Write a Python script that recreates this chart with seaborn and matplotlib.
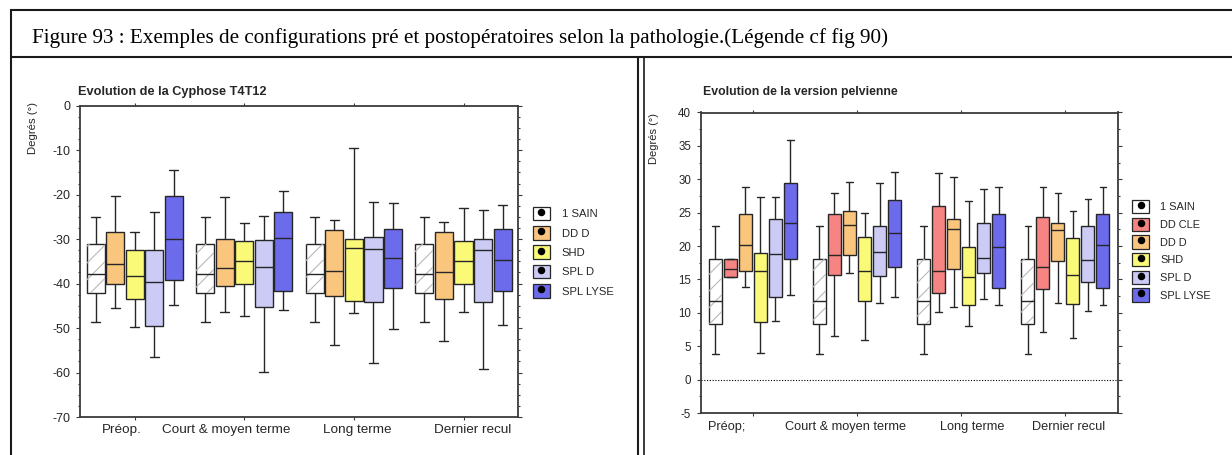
import matplotlib
matplotlib.use("Agg")
import matplotlib.pyplot as plt
from matplotlib.lines import Line2D
from matplotlib.patches import Patch, PathPatch
from matplotlib.legend_handler import HandlerTuple
from matplotlib.ticker import MultipleLocator
import pandas as pd
import seaborn as sns

# ---------------------------------------------------------------- data
caption = ("Figure 93 : Exemples de configurations pré et postopératoires "
           "selon la pathologie.(Légende cf fig 90)")

periods = ["Préop.", "Court & moyen terme", "Long terme", "Dernier recul"]
period_labels_cyph = ["Préop.", "Court & moyen terme", "Long terme", "Dernier recul"]
period_labels_vp = ["Préop;", "Court & moyen terme", "Long terme", "Dernier recul"]

groups_cyph = ["1 SAIN", "DD D", "SHD", "SPL D", "SPL LYSE"]
groups_vp = ["1 SAIN", "DD CLE", "DD D", "SHD", "SPL D", "SPL LYSE"]

# five-number summaries per period: (min, Q1, median, Q3, max), degrees
cyph_sain = [(-48.7, -42.1, -37.8, -31.1, -25.1)] * 4
cyph_dd_d = [(-45.5, -40.1, -35.7, -28.5, -20.3), (-46.4, -40.6, -36.5, -30.0, -20.6),
             (-53.8, -42.8, -37.2, -27.9, -25.6), (-52.9, -43.4, -37.3, -28.4, -26.2)]
cyph_shd = [(-49.7, -43.4, -38.4, -32.5, -28.5), (-47.2, -40.0, -35.0, -30.5, -26.4),
            (-46.6, -44.0, -32.0, -30.0, -9.4), (-46.4, -40.2, -35.0, -30.5, -23.0)]
cyph_spl_d = [(-56.5, -49.5, -39.6, -32.5, -23.9), (-59.8, -45.2, -36.3, -30.3, -24.9),
              (-57.8, -44.1, -32.2, -29.5, -21.6), (-59.3, -44.1, -32.5, -30.0, -23.4)]
cyph_spl_lyse = [(-44.9, -39.1, -30.0, -20.3, -14.4), (-46.0, -41.6, -29.8, -23.9, -19.1),
                 (-50.1, -41.1, -34.2, -27.7, -21.9), (-49.4, -41.6, -34.8, -27.7, -22.3)]

vp_sain = [(3.9, 8.3, 11.7, 18.1, 23.0)] * 4
vp_dd_cle = [(15.3, 15.3, 16.6, 18.0, 18.0), (6.6, 15.7, 18.6, 24.8, 28.0),
             (10.1, 13.0, 16.3, 26.0, 31.0), (7.2, 13.5, 16.9, 24.3, 28.9)]
vp_dd_d = [(13.9, 16.3, 20.1, 24.8, 28.9), (16.0, 18.6, 23.1, 25.3, 29.6),
           (10.8, 16.5, 22.5, 24.1, 30.4), (11.5, 17.8, 22.4, 23.4, 28.0)]
vp_shd = [(4.0, 8.6, 16.3, 19.0, 27.4), (5.9, 11.7, 16.3, 21.4, 25.0),
          (8.1, 11.1, 15.4, 19.9, 26.8), (6.3, 11.3, 15.7, 21.2, 25.3)]
vp_spl_d = [(8.8, 12.4, 18.8, 24.0, 27.3), (11.4, 15.5, 19.1, 23.0, 29.5),
            (12.0, 16.0, 18.2, 23.4, 28.5), (10.2, 14.6, 17.9, 23.0, 27.0)]
vp_spl_lyse = [(12.7, 18.1, 23.4, 29.5, 35.9), (12.4, 16.8, 22.0, 26.9, 31.1),
               (11.1, 13.7, 19.9, 24.8, 28.9), (11.1, 13.7, 20.1, 24.8, 28.9)]

colors = {
    "1 SAIN": "#ffffff",
    "DD CLE": "#f58482",
    "DD D": "#fac67e",
    "SHD": "#fafa78",
    "SPL D": "#cbcbf6",
    "SPL LYSE": "#6b6bec",
}


def long_table(summaries, groups):
    rows = []
    for grp, per_period in zip(groups, summaries):
        for period, five in zip(periods, per_period):
            for v in five:
                rows.append({"period": period, "group": grp, "value": v})
    return pd.DataFrame(rows)


df_cyph = long_table([cyph_sain, cyph_dd_d, cyph_shd, cyph_spl_d, cyph_spl_lyse], groups_cyph)
df_vp = long_table([vp_sain, vp_dd_cle, vp_dd_d, vp_shd, vp_spl_d, vp_spl_lyse], groups_vp)

# ---------------------------------------------------------------- style
sns.set_theme(style="ticks")
plt.rcParams["font.family"] = ["Liberation Sans", "DejaVu Sans"]
plt.rcParams["axes.unicode_minus"] = False
plt.rcParams["hatch.linewidth"] = 0.8

W, H = 1232, 455
fig = plt.figure(figsize=(W / 100, H / 100), dpi=100)
fig.patch.set_facecolor("white")


def fx(x):
    return x / W


def fy(y):
    return 1 - y / H


def axes_box(x0, y0, x1, y1):
    return [fx(x0), fy(y1), fx(x1) - fx(x0), fy(y0) - fy(y1)]


SPINE = "#3a3a3a"
INK = "#262626"


def draw_panel(ax, df, groups, width, gap, ylim, major, tick_fs):
    sns.boxplot(data=df, x="period", y="value", hue="group", order=periods,
                hue_order=groups, palette=colors, saturation=1, whis=(0, 100),
                width=width, gap=gap, linewidth=1.0, linecolor=INK,
                fliersize=0, legend=False, ax=ax)
    # hatched overlay on the healthy reference boxes
    for p in list(ax.patches):
        fc = p.get_facecolor()
        if fc[0] > 0.99 and fc[1] > 0.99 and fc[2] > 0.99:
            ov = PathPatch(p.get_path(), transform=p.get_transform(),
                           facecolor="none", edgecolor="#b8b8b8", lw=0,
                           hatch="//", zorder=p.get_zorder() + 0.05)
            ax.add_patch(ov)
    ax.set_xlim(-0.5, 3.5)
    ax.set_ylim(*ylim)
    ax.set_xlabel("")
    ax.set_ylabel("")
    ax.set_xticks(range(len(periods)))
    ax.set_xticklabels([""] * len(periods))
    ax.yaxis.set_major_locator(MultipleLocator(major))
    ax.yaxis.set_minor_locator(MultipleLocator(2.5))
    ax.tick_params(axis="y", which="both", left=True, right=True, direction="out",
                   labelright=False, color=SPINE, width=0.8, labelsize=tick_fs,
                   labelcolor=INK)
    ax.tick_params(axis="y", which="major", length=3.0, pad=4)
    ax.tick_params(axis="y", which="minor", length=1.7)
    ax.tick_params(axis="x", which="major", top=True, bottom=True, direction="out",
                   length=2.0, width=0.8, color=SPINE)
    for s in ax.spines.values():
        s.set_visible(True)
        s.set_color(SPINE)
        s.set_linewidth(1.3)
    ax.set_facecolor("white")
    ax.grid(False)


def add_legend(ax, groups, x, ytop, fs, spacing):
    handles = [(Patch(facecolor=colors[g], edgecolor=INK, linewidth=0.9),
                Line2D([], [], marker="o", ls="none", color="black", markersize=4.4))
               for g in groups]
    leg = ax.legend(handles, groups,
                    handler_map={tuple: HandlerTuple(ndivide=1, pad=0)},
                    loc="upper left", bbox_to_anchor=(fx(x), fy(ytop)),
                    bbox_transform=fig.transFigure, frameon=False, borderpad=0,
                    borderaxespad=0, fontsize=fs, handlelength=1.5, handleheight=1.5,
                    handletextpad=1.05, labelspacing=spacing, numpoints=1)
    for t in leg.get_texts():
        t.set_color(INK)


# ---------------------------------------------------------------- left panel
ax1 = fig.add_axes(axes_box(80, 105.7, 518.3, 417))
draw_panel(ax1, df_cyph, groups_cyph, width=0.892, gap=0.077, ylim=(-70, 0),
           major=10, tick_fs=9)
for i, (lab, off) in enumerate(zip(period_labels_cyph, [-0.12, -0.17, 0.03, 0.08])):
    ax1.text(i + off, -0.042, lab, transform=ax1.get_xaxis_transform(),
             ha="center", va="center", fontsize=9.7, color=INK)
fig.text(fx(78), fy(92), "Evolution de la Cyphose T4T12", fontsize=9.2,
         fontweight="bold", ha="left", va="center", color=INK)
fig.text(fx(33), fy(128.5), "Degrés (°)", rotation=90, fontsize=8.2,
         ha="center", va="center", color=INK)
add_legend(ax1, groups_cyph, 533, 206.6, 8.1, 0.5)

# ---------------------------------------------------------------- right panel
ax2 = fig.add_axes(axes_box(700.7, 112.5, 1117.5, 413))
draw_panel(ax2, df_vp, groups_vp, width=0.865, gap=0.13, ylim=(-5, 40),
           major=5, tick_fs=8.3)
ax2.axhline(0, color="black", lw=0.8, ls=(0, (1, 1.5)), zorder=1)
for i, (lab, off) in enumerate(zip(period_labels_vp, [-0.255, -0.106, 0.106, 0.03])):
    ax2.text(i + off, -0.0456, lab, transform=ax2.get_xaxis_transform(),
             ha="center", va="center", fontsize=9.2, color=INK)
fig.text(fx(703), fy(92.3), "Evolution de la version pelvienne", fontsize=8.8,
         fontweight="bold", ha="left", va="center", color=INK)
fig.text(fx(654), fy(139), "Degrés (°)", rotation=90, fontsize=8.0,
         ha="center", va="center", color=INK)
add_legend(ax2, groups_vp, 1132.3, 200.0, 7.9, 0.39)

# ---------------------------------------------------------------- page frame
FRAME = "#1a1a1a"


def hline(y, x0, x1, lw):
    fig.add_artist(Line2D([fx(x0), fx(x1)], [fy(y), fy(y)], transform=fig.transFigure,
                          color=FRAME, lw=lw, solid_capstyle="butt"))


def vline(x, y0, y1, lw):
    fig.add_artist(Line2D([fx(x), fx(x)], [fy(y0), fy(y1)], transform=fig.transFigure,
                          color=FRAME, lw=lw, solid_capstyle="butt"))


hline(9.5, 10, W, 1.5)
hline(56.5, 10, W, 1.5)
vline(10.5, 9, H, 1.5)
vline(637.5, 56, H, 1.5)
vline(644, 56, H, 1.2)

fig.text(fx(32), fy(43.3), caption, fontsize=15.2, family="Liberation Serif",
         ha="left", va="baseline", color="black")

fig.savefig("out.png", dpi=100, facecolor="white")
